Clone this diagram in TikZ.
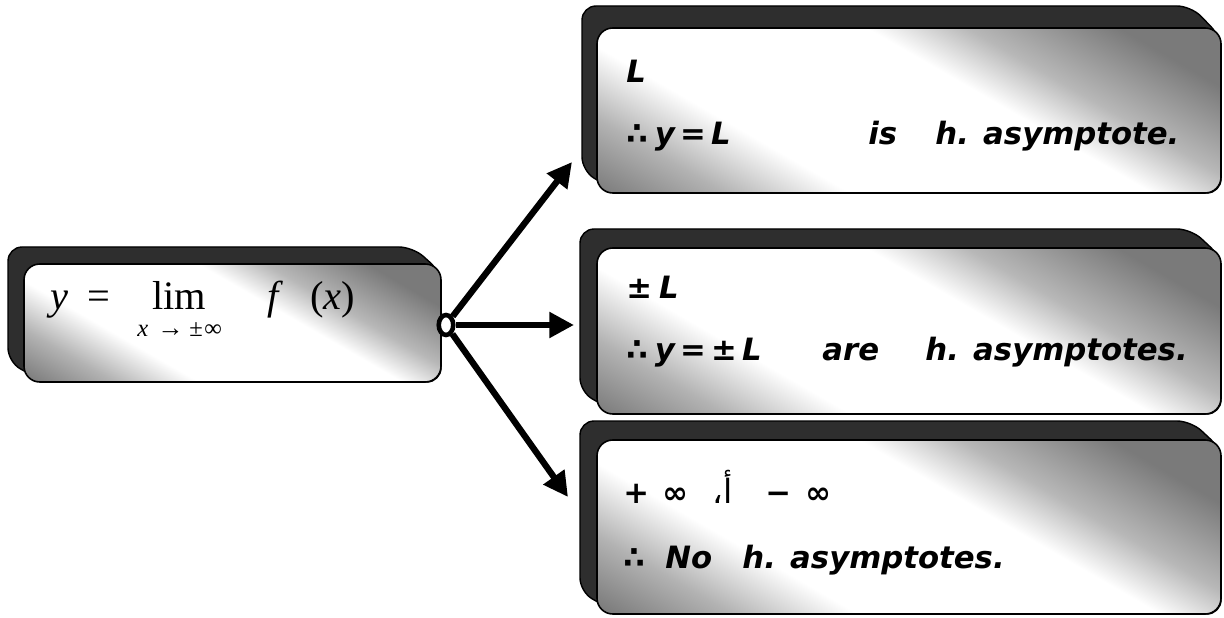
\documentclass[tikz,border=0pt]{standalone}
\usepackage{fontspec}
\setmainfont{DejaVu Sans}
\newfontfamily\tmsfont{Liberation Serif}
\newfontfamily\arabicfont[Script=Arabic]{DejaVu Sans}
\TeXXeTstate=1
\usetikzlibrary{arrows.meta,shapes.geometric}
\pgfdeclarehorizontalshading{bandshade}{100bp}{color(0bp)=(black!55); color(32bp)=(black!52); color(37bp)=(black!30); color(42bp)=(white); color(54bp)=(white); color(58bp)=(black!28); color(64bp)=(black!52); color(100bp)=(black!55)}
\tikzset{
  backframe/.style={fill=black!82, draw=black, line width=0.8pt, rounded corners=8pt},
  faceline/.style={draw=black, line width=0.9pt, rounded corners=9pt},
  hand/.style={font=\bfseries\itshape\fontsize{17.5}{20}\selectfont, anchor=base west, inner sep=0pt},
  tms/.style={font=\tmsfont\fontsize{23}{26}\selectfont, anchor=base west, inner sep=0pt},
  tmssub/.style={font=\tmsfont\fontsize{14}{16}\selectfont, anchor=base west, inner sep=0pt},
  conn/.style={line width=3.6pt, -{Triangle[length=14pt,width=14pt]}},
}
\newcommand\bevelbox[8]{%
  \filldraw[backframe] (#1,#2) -- (#5-#7,#2) -- (#5,#4+#7*0.3) -- (#5,#6) -- (#3+#8,#6) -- (#1,#6-#8) -- cycle;
  \pgfmathsetmacro\fcx{(#3+#5)/2}%
  \pgfmathsetmacro\fcy{(#4+#6)/2}%
  \pgfmathsetmacro\fhs{(#5-#3)/2+4}%
  \begin{scope}
    \clip[rounded corners=9pt] (#3,#4) rectangle (#5,#6);
    \shade[shading=bandshade, shading angle=60] (\fcx-\fhs,\fcy-\fhs) rectangle (\fcx+\fhs,\fcy+\fhs);
  \end{scope}
  \path[faceline] (#3,#4) rectangle (#5,#6);
}
\begin{document}
\begin{tikzpicture}[x=0.02cm,y=-0.02cm]
\useasboundingbox (0,0) rectangle (1224,618);
% boxes
\bevelbox{8}{247}{24}{264}{441}{382}{28}{20}
\bevelbox{582}{6}{597}{28}{1221}{193}{30}{22}
\bevelbox{580}{229}{597}{248}{1221}{414}{30}{22}
\bevelbox{580}{421}{597}{440}{1221}{614}{30}{22}
% left box text
\node[tms] (ly) at (50,310) {\itshape y};
\node[tms] (leq) at (87,310) {=};
\node[tms] (llim) at (152,310) {lim};
\node[tmssub] (lsx) at (137,337) {\itshape x};
\node[tmssub, font=\tmsfont\fontsize{15}{15}\selectfont, text height=5pt, text depth=0pt] (lsa) at (157,337) {→};
\node[tmssub] (lsp) at (189,337) {±};
\node[tmssub] (lsi) at (204,337) {∞};
\node[tms] (lf) at (267,310) {\itshape f};
\node[tms] (lx) at (310,310) {(\itshape x\upshape)};
% top box
\node[hand] (t1a) at (626,83) {L};
\node[hand] (t1b) at (626,145) {∴\kern4pt y\kern3pt=\kern3pt L};
\node[hand] (t1c) at (868,145) {is};
\node[hand] (t1d) at (935,145) {h. asymptote.};
% middle box
\node[hand] (t2a) at (626,298) {±\kern4pt L};
\node[hand] (t2b) at (626,360) {∴\kern4pt y\kern3pt=\kern3pt±\kern3pt L};
\node[hand] (t2c) at (822,360) {are};
\node[hand] (t2d) at (925,360) {h. asymptotes.};
% bottom box
\node[hand] (t3a) at (623,503) {+};
\node[hand] (t3b) at (662,503) {∞};
\node[hand] (t3c) at (712,503) {\arabicfont\mdseries\upshape\fontsize{19}{20}\selectfont\beginR أ،\endR};
\node[hand] (t3d) at (765,503) {−};
\node[hand] (t3e) at (805,503) {∞};
\node[hand] (t3f) at (623,568) {∴};
\node[hand] (t3g) at (665,568) {No};
\node[hand] (t3h) at (742,568) {h. asymptotes.};
% ring and arrows
\node[draw, ellipse, line width=2.6pt, fill=white, minimum width=0.29cm, minimum height=0.40cm, inner sep=0pt] (ring) at (446,325) {};
\coordinate (a1) at (572,162);
\coordinate (a2) at (574,325);
\coordinate (a3) at (568,497);
\draw[conn] (ring) -- (a1);
\draw[conn] (ring) -- (a2);
\draw[conn] (ring) -- (a3);
\end{tikzpicture}
\end{document}
